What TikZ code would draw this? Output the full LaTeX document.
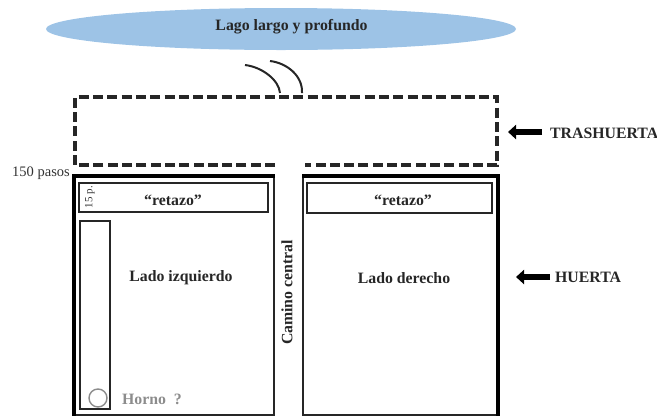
\documentclass[tikz,border=0pt]{standalone}
\usepackage{xcolor}
\usepackage{fontspec}
\setmainfont{Liberation Serif}
\usetikzlibrary{arrows.meta,shapes.geometric}

\definecolor{lago}{HTML}{9DC3E6}
\definecolor{horno}{HTML}{8C8C8C}

\begin{document}
\begin{tikzpicture}[%
	x=1pt,y=-1pt,
	parcela/.style={draw=black!85,line width=1.8pt,inner sep=0pt},
	rotulo/.style={font=\bfseries\fontsize{15.8}{18}\selectfont,text=black!85,inner sep=0pt},
	limite/.style={draw=black!85,line width=3.2pt,dash pattern=on 10pt off 4.3pt},
	flecha/.style={draw=black,line width=5.5pt,-{Triangle[length=8pt,width=14pt]}}]
	\useasboundingbox (0,0) rectangle (657,416);
	% lago
	\node[ellipse,fill=lago,minimum width=470pt,minimum height=42pt,inner sep=0pt] (lago) at (281,29) {};
	\node[rotulo] (lagotexto) at (291.5,27) {Lago largo y profundo};
	% trashuerta
	\coordinate (tras1) at (275,165);
	\coordinate (tras2) at (75,165);
	\coordinate (tras3) at (75,97);
	\coordinate (tras4) at (497,97);
	\coordinate (tras5) at (497,165);
	\coordinate (tras6) at (305,165);
	\draw[limite] (tras1) -- (tras2) -- (tras3) -- (tras4) -- (tras5) -- (tras6);
	% acequias
	\coordinate (rio1) at (245,65);
	\coordinate (rio2) at (280,93);
	\coordinate (rio3) at (270,61);
	\coordinate (rio4) at (302,93);
	\draw[black!85,line width=2pt] (rio1) .. controls (262,67) and (279,80) .. (rio2);
	\draw[black!85,line width=2pt] (rio3) .. controls (287,63) and (303,76) .. (rio4);
	% huerta
	\node[parcela,minimum width=199pt,minimum height=238pt] (izquierdo) at (174.5,296) {};
	\draw[black,line width=4.5pt] (izquierdo.south west) -- (izquierdo.north west) -- (izquierdo.north east);
	\node[parcela,minimum width=194pt,minimum height=238pt] (derecho) at (400,296) {};
	\draw[black,line width=3.5pt] (derecho.north west) -- (derecho.north east) -- (derecho.south east);
	\node[parcela,minimum width=189pt,minimum height=29pt] (retazoizq) at (173.5,197.5) {};
	\node[parcela,minimum width=185pt,minimum height=30pt] (retazoder) at (399.5,198) {};
	\node[parcela,minimum width=30pt,minimum height=188pt] (franja) at (95,315) {};
	\node[circle,draw=horno,line width=1.4pt,minimum size=18pt,inner sep=0pt] (horno) at (98,398) {};
	% textos
	\node[rotulo] (retazo1) at (173,200) {“retazo”};
	\node[rotulo] (retazo2) at (403,200) {“retazo”};
	\node[rotulo] (ladoizq) at (181,278) {Lado izquierdo};
	\node[rotulo] (ladoder) at (404,278) {Lado derecho};
	\node[rotulo,rotate=90] (camino) at (287,292.5) {Camino central};
	\node[rotulo,text=horno] (hornotexto) at (152,399) {Horno\enspace ?};
	\node[font=\fontsize{14.5}{16}\selectfont,text=black!80,inner sep=0pt] (pasos) at (41,173) {150 pasos};
	\node[font=\fontsize{11}{12}\selectfont,text=black!80,rotate=90,inner sep=0pt] (quince) at (90,197) {15 p.};
	\node[rotulo,anchor=west] (trashuerta) at (550,133) {TRASHUERTA};
	\node[rotulo,anchor=west] (huerta) at (555,277) {HUERTA};
	% flechas
	\coordinate (puntatras) at (508,132);
	\coordinate (puntahuerta) at (516,277);
	\draw[flecha] (trashuerta.west) ++(-8,-1) -- (puntatras);
	\draw[flecha] (huerta.west) ++(-5,0) -- (puntahuerta);
\end{tikzpicture}
\end{document}
